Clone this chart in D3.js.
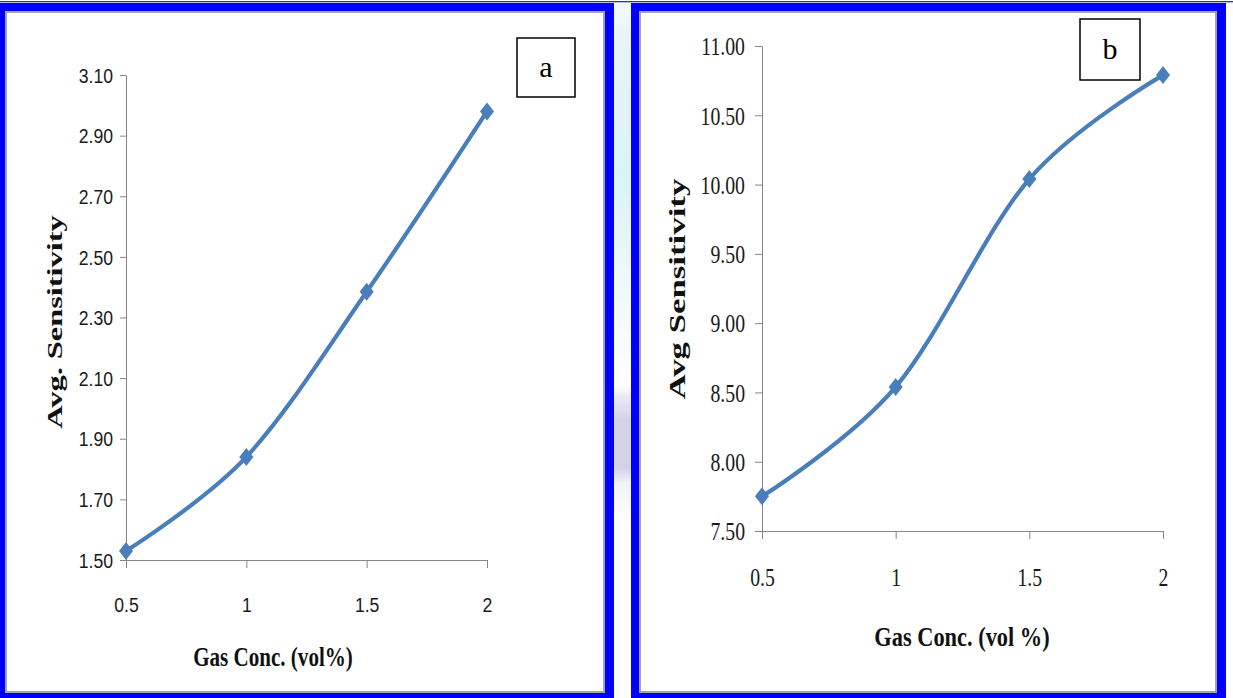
<!DOCTYPE html>
<html>
<head>
<meta charset="utf-8">
<script src="https://cdn.jsdelivr.net/npm/d3@7/dist/d3.min.js"></script>
<style>
  html, body { margin: 0; padding: 0; background: #ffffff; }
  svg { display: block; }
</style>
</head>
<body>
<svg id="fig" width="1233" height="698"></svg>
<script>
// Gas concentration (vol%) and averaged sensor response for the two samples
const concentrations = [0.5, 1, 1.5, 2];
const concLabels = ["0.5", "1", "1.5", "2"];
const sensitivityA = [1.53, 1.84, 2.385, 2.98];
const sensitivityB = [7.75, 8.54, 10.04, 10.79];
const yTicksA = [1.5, 1.7, 1.9, 2.1, 2.3, 2.5, 2.7, 2.9, 3.1];
const yTicksB = [7.5, 8.0, 8.5, 9.0, 9.5, 10.0, 10.5, 11.0];

const svg = d3.select("#fig");
const BLUE = "#0000ff";
const LINE = "#4a7ebb";
const AXIS = "#868686";
const defs = svg.append("defs");

// slightly wide diamond marker, as used by the spreadsheet line chart
const wideDiamond = {
  draw(ctx, size) {
    const h = Math.sqrt(size) * 0.9, w = h * 0.78;
    ctx.moveTo(0, -h); ctx.lineTo(w, 0); ctx.lineTo(0, h); ctx.lineTo(-w, 0); ctx.closePath();
  }
};

// ---- frame: thin rule at the top, two blue-bordered panels, tinted gap ----
svg.append("rect").attr("x", 0).attr("y", 1).attr("width", 1233).attr("height", 1.4).attr("fill", "#34349c");
svg.append("rect").attr("x", 0).attr("y", 2.4).attr("width", 1233).attr("height", 0.8).attr("fill", "#c8c8ee");

const gapGrad = defs.append("linearGradient").attr("id", "gapTint").attr("x1", 0).attr("y1", 0).attr("x2", 0).attr("y2", 1);
[[0, "#f4f9fc"], [0.05, "#e8f4f9"], [0.25, "#daf3f6"], [0.42, "#f0f9fa"], [0.55, "#ffffff"],
 [0.565, "#ecebf4"], [0.6, "#d4d2e9"], [0.67, "#d4d2e9"], [0.69, "#f2f2f8"], [0.75, "#ffffff"], [1, "#ffffff"]]
  .forEach(([o, c]) => gapGrad.append("stop").attr("offset", o).attr("stop-color", c));
svg.append("rect").attr("x", 614).attr("y", 3).attr("width", 17).attr("height", 695).attr("fill", "url(#gapTint)");

const panels = [
  { x0: 0, x1: 614, ix0: 6, ix1: 604 },
  { x0: 631, x1: 1226, ix0: 640, ix1: 1216 }
];
panels.forEach(p => {
  svg.append("rect").attr("x", p.x0).attr("y", 3).attr("width", p.x1 - p.x0).attr("height", 698 - 3).attr("fill", BLUE);
  svg.append("rect").attr("x", p.ix0).attr("y", 12).attr("width", p.ix1 - p.ix0).attr("height", 692 - 12)
    .attr("fill", "#ffffff").attr("stroke", "#a4a4a4").attr("stroke-width", 2);
});

// ---- generic panel drawer ----
function drawPanel(cfg) {
  const g = svg.append("g");
  const x = d3.scaleLinear().domain([0.5, 2]).range(cfg.xRange);
  const y = d3.scaleLinear().domain(cfg.yDomain).range(cfg.yRange);

  // y axis
  const ya = g.append("g").attr("transform", `translate(${cfg.xRange[0]},0)`)
    .call(d3.axisLeft(y).tickValues(cfg.yTicks).tickSize(cfg.tickLen).tickSizeOuter(0)
      .tickFormat(d3.format(".2f")));
  ya.select(".domain").attr("stroke", AXIS);
  ya.selectAll(".tick line").attr("stroke", AXIS);
  ya.selectAll(".tick text")
    .attr("font-family", cfg.tickFont).attr("font-size", cfg.tickSize).attr("fill", "#1a1a1a")
    .attr("x", -cfg.yLabelGap / cfg.tickScale).attr("dy", "0.34em")
    .attr("transform", `scale(${cfg.tickScale},1)`);

  // x axis
  const xa = g.append("g").attr("transform", `translate(0,${cfg.yRange[0]})`)
    .call(d3.axisBottom(x).tickValues(concentrations).tickSize(cfg.xTickLen).tickSizeOuter(0)
      .tickFormat((d, i) => concLabels[i]));
  xa.select(".domain").attr("stroke", AXIS);
  xa.selectAll(".tick line").attr("stroke", AXIS);
  xa.selectAll(".tick text")
    .attr("font-family", cfg.tickFont).attr("font-size", cfg.tickSize).attr("fill", "#1a1a1a")
    .attr("y", cfg.xLabelOffset).attr("dy", "0.34em")
    .attr("transform", `scale(${cfg.tickScale},1)`);

  // smoothed series line
  const pts = concentrations.map((c, i) => [x(c), y(cfg.values[i])]);
  g.append("path").attr("d", d3.line().curve(d3.curveCardinal.tension(0))(pts))
    .attr("fill", "none").attr("stroke", LINE).attr("stroke-width", 4.2).attr("stroke-linejoin", "round");

  // diamond markers
  g.selectAll("path.mk").data(pts).join("path").attr("class", "mk")
    .attr("d", d3.symbol().type(wideDiamond).size(100))
    .attr("transform", d => `translate(${d[0]},${d[1]})`)
    .attr("fill", LINE);

  // axis titles
  g.append("text").text(cfg.xTitle)
    .attr("transform", `translate(${cfg.xTitlePos[0]},${cfg.xTitlePos[1]}) scale(${cfg.xTitleScale},1)`)
    .attr("text-anchor", "middle").attr("font-family", "Liberation Serif, Times New Roman, serif")
    .attr("font-weight", "bold").attr("font-size", cfg.xTitleSize).attr("fill", "#111");
  g.append("text").text(cfg.yTitle)
    .attr("transform", `translate(${cfg.yTitlePos[0]},${cfg.yTitlePos[1]}) rotate(-90) scale(${cfg.yTitleScale},1)`)
    .attr("text-anchor", "middle").attr("font-family", "Liberation Serif, Times New Roman, serif")
    .attr("font-weight", "bold").attr("font-size", cfg.yTitleSize).attr("fill", "#111");

  // panel letter box
  const b = cfg.box;
  g.append("rect").attr("x", b[0]).attr("y", b[1]).attr("width", b[2]).attr("height", b[3])
    .attr("fill", "#ffffff").attr("stroke", "#000").attr("stroke-width", 1.5);
  g.append("text").text(cfg.letter)
    .attr("x", b[0] + b[2] / 2).attr("y", b[1] + b[3] / 2).attr("dy", "0.33em")
    .attr("text-anchor", "middle").attr("font-family", "Liberation Serif, Times New Roman, serif")
    .attr("font-size", 30).attr("fill", "#000");
}

drawPanel({
  values: sensitivityA, yDomain: [1.5, 3.1], yTicks: yTicksA,
  xRange: [126, 487], yRange: [560, 75],
  tickLen: 6, xTickLen: 8, yLabelGap: 13, xLabelOffset: 45,
  tickFont: "Liberation Sans, Arial, sans-serif", tickSize: 21, tickScale: 0.84,
  xTitle: "Gas Conc. (vol%)", xTitlePos: [273, 666], xTitleSize: 27, xTitleScale: 0.78,
  yTitle: "Avg. Sensitivity", yTitlePos: [62, 322], yTitleSize: 20, yTitleScale: 1.62,
  box: [517, 38, 58, 59], letter: "a"
});

drawPanel({
  values: sensitivityB, yDomain: [7.5, 11], yTicks: yTicksB,
  xRange: [762, 1163], yRange: [531, 46],
  tickLen: 7, xTickLen: 8, yLabelGap: 17, xLabelOffset: 46,
  tickFont: "Liberation Serif, Times New Roman, serif", tickSize: 26, tickScale: 0.76,
  xTitle: "Gas Conc. (vol %)", xTitlePos: [962, 646], xTitleSize: 28, xTitleScale: 0.8,
  yTitle: "Avg Sensitivity", yTitlePos: [685, 289], yTitleSize: 24, yTitleScale: 1.45,
  box: [1080, 19, 60, 61], letter: "b"
});
</script>
</body>
</html>
